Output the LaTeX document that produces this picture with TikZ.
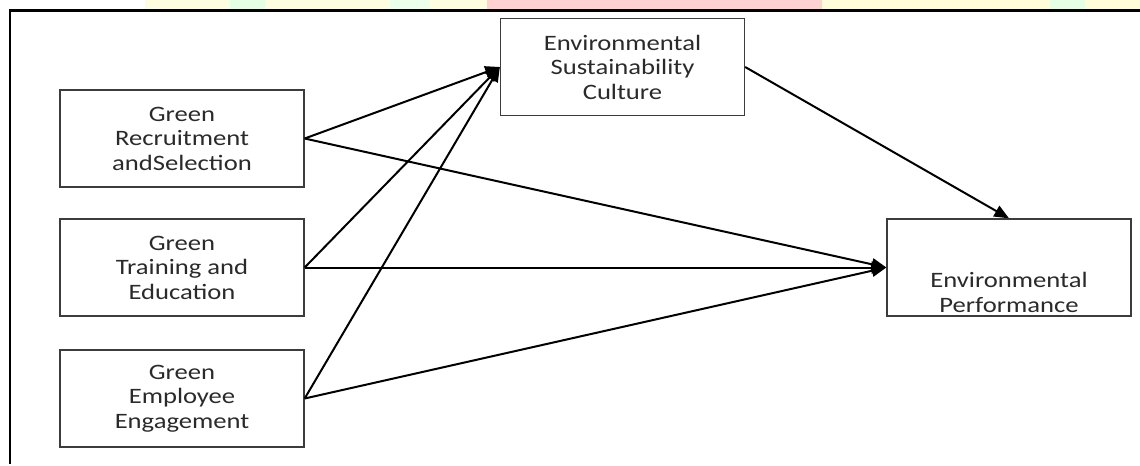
\documentclass[tikz,border=0pt]{standalone}
\usepackage{fontspec}
\setmainfont{Carlito}[FakeStretch=1.21]
\usetikzlibrary{arrows.meta}
\definecolor{boxline}{HTML}{3C3C3C}
\definecolor{txt}{HTML}{2A2A2A}
\tikzset{
  box/.style={draw=boxline, line width=1pt, minimum width=244*0.75pt, minimum height=97*0.75pt,
    inner sep=0pt, align=center, text=txt, font=\fontsize{16.5}{18.4}\selectfont},
  lbl/.style={inner sep=0pt, align=center, text=txt, font=\fontsize{16.5}{18.4}\selectfont},
  arr/.style={line width=1.5pt, -{Triangle[length=11pt,width=9pt]}},
  frame/.style={line width=1.6pt, black}
}
\begin{document}
\begin{tikzpicture}[x=0.75pt,y=-0.75pt]
\useasboundingbox (0,0) rectangle (1140,465);
% faint watermark strip at top
\fill[yellow!12] (145,0) rectangle (487,9);
\fill[green!10] (230,0) rectangle (265,9);
\fill[green!8] (390,0) rectangle (430,9);
\fill[red!18] (487,0) rectangle (822,9);
\fill[yellow!15] (822,0) rectangle (1140,9);
\fill[green!10] (1050,0) rectangle (1085,9);
% frame
\draw[frame] (10,464) -- (10,10.5) -- (1140,10.5);
% boxes
\node[box] (GRS) at (182,138.5) {Green\\Recruitment\\andSelection};
\node[box] (GTE) at (182,267.5) {Green\\Training and\\Education};
\node[box] (GEE) at (182,398.5) {Green\\Employee\\Engagement};
\node[box] (ESC) at (622.5,67) {Environmental\\Sustainability\\Culture};
\node[box] (EP) at (1009,267.5) {};
\node[lbl] (EPt) at (1009,292.5) {Environmental\\Performance};
% arrows
\draw[arr] (GRS.east) -- (ESC.west);
\draw[arr] (GTE.east) -- (ESC.west);
\draw[arr] (GEE.east) -- (ESC.west);
\draw[arr] (GRS.east) -- (EP.west);
\draw[arr] (GTE.east) -- (EP.west);
\draw[arr] (GEE.east) -- (EP.west);
\draw[arr] (ESC.east) -- (EP.north);
\end{tikzpicture}
\end{document}
